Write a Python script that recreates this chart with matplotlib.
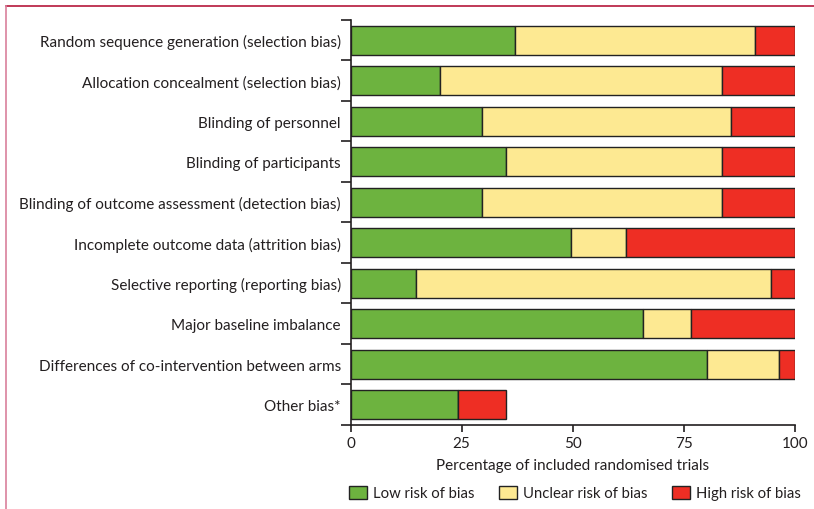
import matplotlib.pyplot as plt
import numpy as np
from matplotlib.lines import Line2D
from matplotlib.patches import Patch

plt.rcParams['font.family'] = ['Lato', 'DejaVu Sans']

domains = [
    "Random sequence generation (selection bias)",
    "Allocation concealment (selection bias)",
    "Blinding of personnel",
    "Blinding of participants",
    "Blinding of outcome assessment (detection bias)",
    "Incomplete outcome data (attrition bias)",
    "Selective reporting (reporting bias)",
    "Major baseline imbalance",
    "Differences of co-intervention between arms",
    "Other bias*",
]
low = [37.0, 20.2, 29.5, 34.9, 29.5, 49.6, 14.7, 65.9, 80.1, 24.1]
unclear = [54.0, 63.4, 56.1, 48.7, 54.1, 12.3, 79.8, 10.8, 16.3, 0.0]
high = [9.0, 16.4, 14.4, 16.4, 16.4, 38.1, 5.5, 23.3, 3.6, 10.8]

green = '#6db33f'
yellow = '#fde992'
red = '#ee2e24'
ink = '#231f20'
fs = 11

fig = plt.figure(figsize=(8.14, 5.10), dpi=100)
ax = fig.add_axes([0.4306, 0.1647, 0.9767 - 0.4306, 0.959 - 0.1647])

y = np.arange(len(domains))
low = np.array(low)
unclear = np.array(unclear)
high = np.array(high)
kw = dict(height=0.71, edgecolor='#222222', linewidth=1.0)
ax.barh(y, low, color=green, **kw)
ax.barh(y, unclear, left=low, color=yellow, **kw)
ax.barh(y, high, left=low + unclear, color=red, **kw)

ax.set_ylim(9.5, -0.5)
ax.set_xlim(0, 100)
ax.set_xticks([0, 25, 50, 75, 100])
ax.set_yticks(y)
ax.set_yticklabels(domains, fontsize=fs, color=ink)
ax.tick_params(axis='y', which='major', length=0, pad=7)
ax.set_yticks(np.arange(-0.5, 10, 1), minor=True)
ax.tick_params(axis='y', which='minor', length=7, width=1.2, color=ink)
ax.tick_params(axis='x', length=5, width=1.2, color=ink, labelsize=fs,
               labelcolor=ink, pad=3)
ax.set_xlabel('Percentage of included randomised trials', fontsize=fs,
              color=ink, labelpad=6)
for s in ['top', 'right']:
    ax.spines[s].set_visible(False)
for s in ['left', 'bottom']:
    ax.spines[s].set_linewidth(1.2)
    ax.spines[s].set_color(ink)

handles = [Patch(facecolor=green, edgecolor='#222222', label='Low risk of bias'),
           Patch(facecolor=yellow, edgecolor='#222222', label='Unclear risk of bias'),
           Patch(facecolor=red, edgecolor='#222222', label='High risk of bias')]
fig.legend(handles=handles, loc='center left', bbox_to_anchor=(336 / 814, 1 - 494 / 510),
           ncol=3, frameon=False, fontsize=10.7, handlelength=1.2, handleheight=1.0,
           handletextpad=0.4, columnspacing=1.65, labelcolor=ink)

# frame lines of the source figure
fig.add_artist(Line2D([6 / 814, 1], [1 - 7 / 510, 1 - 7 / 510], color='#b5173b', lw=1.2))
fig.add_artist(Line2D([6 / 814, 6 / 814], [0, 1 - 7 / 510], color='#d9809c', lw=1.2))

fig.savefig('out.png', dpi=100)
